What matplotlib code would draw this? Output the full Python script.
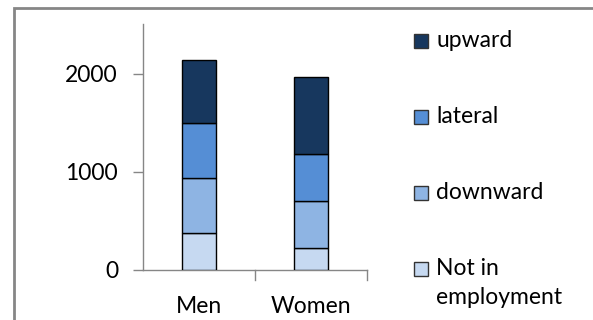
import matplotlib.pyplot as plt
from matplotlib.patches import Rectangle

# Destination of employment moves, stacked by sex
categories = ["Men", "Women"]
series_names = ["Not in\nemployment", "downward", "lateral", "upward"]
not_in_employment = [375, 228]
downward = [560, 472]
lateral = [567, 484]
upward = [640, 785]
yticks = [0, 1000, 2000]

series_values = [not_in_employment, downward, lateral, upward]
colors = ["#C6D9F1", "#8EB4E3", "#558ED5", "#17375E"]

W, H, DPI = 593, 320, 100
fig = plt.figure(figsize=(W / DPI, H / DPI), dpi=DPI)
plt.rcParams["font.family"] = ["Lato", "DejaVu Sans"]
FS = 16.5

# axes placed in pixel terms: x 143..367, y 24..270 (from top)
ax = fig.add_axes([143 / W, 1 - 270 / H, (367 - 143) / W, (270 - 24) / H])

x = list(range(len(categories)))
bottom = [0] * len(categories)
for vals, col in zip(series_values, colors):
    ax.bar(x, vals, width=0.31, bottom=bottom, color=col,
           edgecolor="black", linewidth=1.0, zorder=3)
    bottom = [b + v for b, v in zip(bottom, vals)]

ax.set_xlim(-0.5, len(categories) - 0.5)
ax.set_ylim(0, 2510)
ax.set_yticks(yticks)
ax.set_yticklabels([str(t) for t in yticks], fontsize=FS)
ax.set_xticks(x)
ax.set_xticklabels(categories, fontsize=FS)
ax.tick_params(axis="x", length=0, pad=19)
ax.tick_params(axis="y", length=7, width=1, color="#868686", pad=11)

# category separators on the x axis
for b in [0.5, 1.5]:
    ax.plot([b, b], [0, -0.042], transform=ax.get_xaxis_transform(),
            color="#868686", lw=1, clip_on=False)

for s in ["top", "right"]:
    ax.spines[s].set_visible(False)
for s in ["left", "bottom"]:
    ax.spines[s].set_color("#868686")
    ax.spines[s].set_linewidth(1)

# legend drawn in figure pixel coordinates, upper entry first
leg_y = [41, 117, 193, 269]
line_step = 29
for name, col, yy in zip(reversed(series_names), reversed(colors), leg_y):
    fig.add_artist(Rectangle((414 / W, 1 - (yy + 7) / H), 14 / W, 14 / H,
                             transform=fig.transFigure, facecolor=col,
                             edgecolor="#333333", linewidth=1.0))
    for i, line in enumerate(name.split("\n")):
        fig.text(436 / W, 1 - (yy + 6 + i * line_step) / H, line,
                 fontsize=FS, va="baseline", ha="left")

# outer chart frame
fig.add_artist(Rectangle((14 / W, -0.1), 1.2, 1 - 8 / H + 0.1,
                         transform=fig.transFigure, fill=False,
                         edgecolor="#868686", linewidth=2))

fig.savefig("out.png", dpi=DPI)
